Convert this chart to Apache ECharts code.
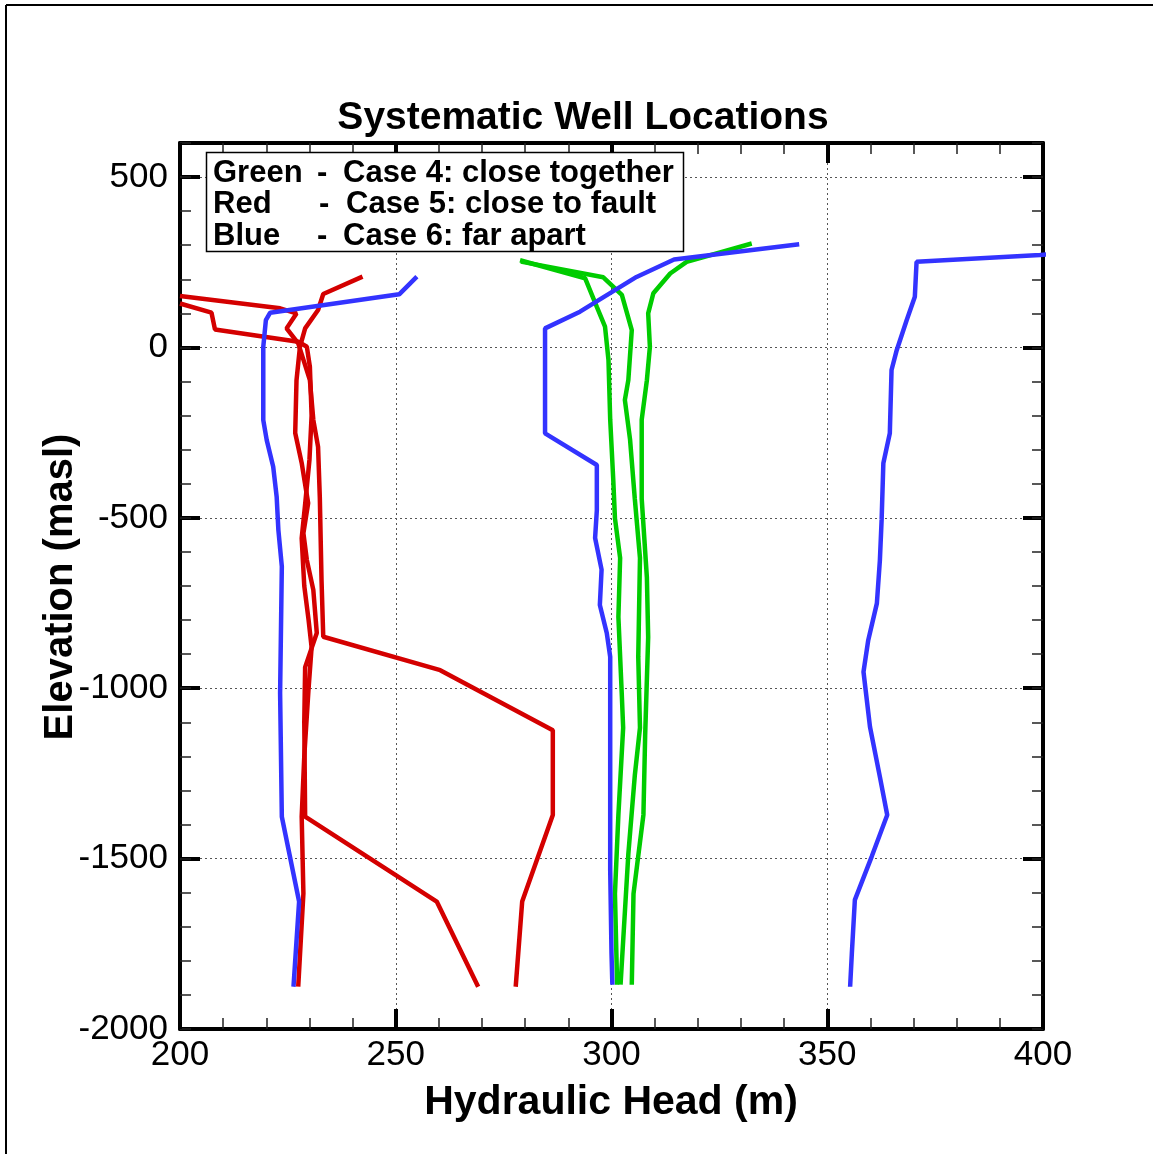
<!DOCTYPE html>
<html>
<head>
<meta charset="utf-8">
<script src="https://cdn.jsdelivr.net/npm/echarts@6/dist/echarts.min.js"></script>
<style>
html,body{margin:0;padding:0;background:#fff;}
#chart{width:1153px;height:1154px;}
</style>
</head>
<body>
<div id="chart"></div>
<script>
// ---- Data: [hydraulic head (m), elevation (masl)] ----
const greenA = [[278.8,256],[293.9,203],[296.6,119],[298.5,61],[299.3,-37],[299.7,-212],[300.4,-386],[300.8,-501],[302,-618],[301.6,-791],[302.4,-1023],[302.7,-1116],[301.6,-1371],[300.8,-1603],[301.3,-1870]];
const greenB = [[279,252],[298.1,206],[302.4,154],[304.7,51],[303.9,-96],[303.1,-154],[304.3,-270],[305.4,-444],[306.6,-618],[306.2,-908],[306.6,-1116],[305.4,-1256],[303.9,-1487],[302.1,-1870]];
const greenC = [[332.5,305],[317.4,251],[313.6,217],[309.7,159],[308.5,100],[308.9,2],[308.2,-96],[307,-212],[307,-444],[308.2,-675],[308.5,-850],[307.8,-1139],[307.4,-1371],[305.1,-1603],[304.7,-1870]];

const red1 = [[242.3,208],[233.2,157],[232,110],[229,56],[227.8,2],[227,-96],[226.7,-251],[228.2,-339],[229.7,-457],[228.6,-545],[229.4,-624],[230.9,-712],[231.7,-838],[229,-938],[228.8,-1100],[229,-1377],[259.5,-1626],[269.1,-1876]];
const red2 = [[200,151],[223.2,115],[227,100],[224.7,56],[227.4,12],[230.1,-96],[230.9,-213],[232,-292],[232.4,-439],[232.8,-683],[233.2,-849],[260.3,-947],[286.4,-1123],[286.4,-1372],[279.3,-1626],[277.8,-1876]];
const red3 = [[200,129],[207.3,102],[208.1,53],[227.4,17],[229.4,2],[230.1,-57],[230.5,-200],[230,-330],[229,-460],[228.2,-560],[228.8,-700],[229.8,-800],[230.5,-880],[229.8,-1000],[228.8,-1200],[228.2,-1377],[228.6,-1602],[227.4,-1876]];

const blueLeft = [[254.9,208],[250.8,156],[220.9,102],[219.9,80],[219.3,2],[219.3,-213],[220.1,-272],[221.6,-350],[222.4,-438],[222.8,-536],[223.6,-643],[223.2,-1014],[223.6,-1377],[227.6,-1626],[226.3,-1876]];
const blueMid = [[343.5,303],[314.5,258],[305.8,207],[292.7,105],[284.6,56],[284.6,-252],[296.6,-345],[296.6,-478],[296.2,-559],[297.7,-652],[297.3,-756],[298.9,-838],[299.7,-908],[299.7,-1533],[300,-1777],[300.2,-1870]];
const blueRight = [[402,274],[399.3,271],[370.7,251.5],[370.3,149],[368.4,80],[366.1,-8],[364.9,-66],[364.5,-252],[363,-340],[362.6,-506],[362.2,-624],[361.5,-751],[359.5,-859],[358.4,-952],[359.9,-1113],[362.2,-1260],[363.9,-1372],[360.3,-1494],[356.4,-1621],[355.7,-1778],[355.3,-1876]];

const xRange = [200, 400];
const yRange = [-2000, 600];
const legendLines = [
  ['Green', '-', 'Case 4: close together'],
  ['Red', '-', 'Case 5: close to fault'],
  ['Blue', '-', 'Case 6: far apart']
];
const titleText = 'Systematic Well Locations';
const xName = 'Hydraulic Head (m)';
const yName = 'Elevation (masl)';

const COLORS = { green: '#00cc00', red: '#d40000', blue: '#3333ff' };
const FONT = '"Liberation Sans", Arial, sans-serif';

const chart = echarts.init(document.getElementById('chart'), null, { renderer: 'canvas' });

const axisLineStyle = { show: true, onZero: false, lineStyle: { color: '#000', width: 4 } };
const majorTick = { show: true, inside: true, length: 20, lineStyle: { color: '#000', width: 4 } };
const minorTickStyle = { color: '#222', width: 1.5 };
const gridDots = { show: true, lineStyle: { color: '#555', width: 1, type: [2, 3] } };
const plain = v => String(v);

function mkX(pos, labels) {
  return {
    type: 'value', min: xRange[0], max: xRange[1], interval: 50, position: pos,
    axisLine: axisLineStyle, axisTick: majorTick,
    minorTick: { show: true, splitNumber: 5, length: 11, lineStyle: minorTickStyle },
    axisLabel: labels ? { show: true, fontSize: 35, color: '#000', fontFamily: FONT, margin: 9, formatter: plain } : { show: false },
    splitLine: labels ? gridDots : { show: false }
  };
}
function mkYMajor(pos, labels) {
  return {
    type: 'value', min: yRange[0], max: yRange[1], interval: 500, position: pos,
    axisLine: axisLineStyle, axisTick: majorTick,
    axisLabel: labels ? { show: true, fontSize: 35, color: '#000', fontFamily: FONT, margin: 12, showMaxLabel: false, formatter: plain, padding: [5, 0, 0, 0] } : { show: false },
    splitLine: labels ? gridDots : { show: false }
  };
}
function mkYMinor(pos) {
  return {
    type: 'value', min: yRange[0], max: yRange[1], interval: 100, position: pos,
    axisLine: { show: false }, axisTick: { show: true, inside: true, length: 11, lineStyle: minorTickStyle },
    axisLabel: { show: false }, splitLine: { show: false }
  };
}

function line(data, color) {
  return {
    type: 'line', data: data, xAxisIndex: 0, yAxisIndex: 0,
    showSymbol: false, symbol: 'none', clip: true, animation: false,
    lineStyle: { color: color, width: 4.5 }, z: 3
  };
}

const legendX = [213, 317, 343];
const legendXRed = [213, 319, 346];
const legendY = [173, 204.5, 236];
const legendGraphics = [{
  type: 'rect', shape: { x: 206.5, y: 152.5, width: 477, height: 99 },
  style: { fill: '#fff', stroke: '#000', lineWidth: 1.5 }, z: 10
}];
legendLines.forEach((parts, i) => {
  const xs = i === 1 ? legendXRed : legendX;
  parts.forEach((t, j) => {
    legendGraphics.push({
      type: 'text', x: xs[j], y: legendY[i], z: 11,
      style: { text: t, font: 'bold 31px ' + FONT, fill: '#000', textAlign: 'left', textVerticalAlign: 'middle' }
    });
  });
});

chart.setOption({
  backgroundColor: '#fff',
  animation: false,
  grid: { left: 180, top: 143, width: 863, height: 886, show: false, containLabel: false },
  xAxis: [mkX('bottom', true), mkX('top', false)],
  yAxis: [mkYMajor('left', true), mkYMinor('left'), mkYMajor('right', false), mkYMinor('right')],
  series: [
    line(greenA, COLORS.green), line(greenB, COLORS.green), line(greenC, COLORS.green),
    line(red1, COLORS.red), line(red2, COLORS.red), line(red3, COLORS.red),
    line(blueLeft, COLORS.blue), line(blueMid, COLORS.blue), line(blueRight, COLORS.blue)
  ],
  graphic: [
    { type: 'line', shape: { x1: 6, y1: 5, x2: 6, y2: 1154 }, style: { stroke: '#000', lineWidth: 2 } },
    { type: 'line', shape: { x1: 6, y1: 5, x2: 1153, y2: 5 }, style: { stroke: '#000', lineWidth: 2 } },
    { type: 'text', x: 583, y: 118, style: { text: titleText, font: 'bold 39px ' + FONT, fill: '#000', textAlign: 'center', textVerticalAlign: 'middle' } },
    { type: 'text', x: 611, y: 1103, style: { text: xName, font: 'bold 41px ' + FONT, fill: '#000', textAlign: 'center', textVerticalAlign: 'middle' } },
    { type: 'text', x: 61, y: 587, rotation: Math.PI / 2, style: { text: yName, font: 'bold 40px ' + FONT, fill: '#000', textAlign: 'center', textVerticalAlign: 'middle' } }
  ].concat(legendGraphics)
});
</script>
</body>
</html>
